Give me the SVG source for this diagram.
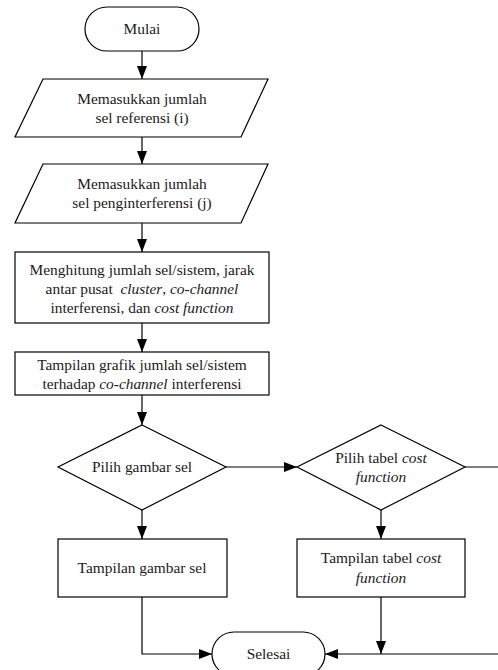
<svg xmlns="http://www.w3.org/2000/svg" width="498" height="670" viewBox="0 0 498 670">
<style>
.s{fill:#fff;stroke:#000;stroke-width:1.2}
.c{fill:none;stroke:#000;stroke-width:1.2}
text{font-family:'Liberation Serif',Tinos,'Times New Roman',Times,serif;font-size:15.4px;fill:#1a1a1a;text-anchor:middle;white-space:pre}
.i{font-style:italic}
</style>
<defs>
<marker id="a" markerWidth="13" markerHeight="10" refX="13" refY="5" orient="auto" markerUnits="userSpaceOnUse">
<path d="M0,0 L13,5 L0,10 z" fill="#000"/>
</marker>
</defs>
<rect width="498" height="670" fill="#fff"/>
<g id="connectors">
<path class="c" d="M142,51 V79" marker-end="url(#a)"/>
<path class="c" d="M142,137 V164" marker-end="url(#a)"/>
<path class="c" d="M142,223 V252" marker-end="url(#a)"/>
<path class="c" d="M142,323 V352" marker-end="url(#a)"/>
<path class="c" d="M142,395 V425" marker-end="url(#a)"/>
<path class="c" d="M226,467 H297" marker-end="url(#a)"/>
<path class="c" d="M142,510 V539" marker-end="url(#a)"/>
<path class="c" d="M381,510 V539" marker-end="url(#a)"/>
<path class="c" d="M142,597 V654 H212" marker-end="url(#a)"/>
<path class="c" d="M381,597 V654" marker-end="url(#a)"/>
<path class="c" d="M465,467 H498"/>
<path class="c" d="M498,654 H325" marker-end="url(#a)"/>
</g>
<g id="mulai">
<rect class="s" x="85" y="7" width="114" height="44" rx="22"/>
<text x="142" y="34" font-family="Liberation Serif, serif">Mulai</text>
</g>
<g id="input-i">
<polygon class="s" points="43,79 268,79 241,137 15,137"/>
<text x="142" y="104">Memasukkan jumlah</text>
<text x="142" y="123">sel referensi (i)</text>
</g>
<g id="input-j">
<polygon class="s" points="43,164 268,164 241,223 15,223"/>
<text x="142" y="189">Memasukkan jumlah</text>
<text x="142" y="208">sel penginterferensi (j)</text>
</g>
<g id="hitung">
<rect class="s" x="15" y="252" width="254" height="71"/>
<text x="142" y="275">Menghitung jumlah sel/sistem, jarak</text>
<text x="142" y="294">antar pusat  <tspan class="i">cluster</tspan>, <tspan class="i">co-channel</tspan></text>
<text x="142" y="313">interferensi, dan <tspan class="i">cost function</tspan></text>
</g>
<g id="grafik">
<rect class="s" x="15" y="352" width="254" height="43"/>
<text x="142" y="370">Tampilan grafik jumlah sel/sistem</text>
<text x="142" y="389">terhadap <tspan class="i">co-channel</tspan> interferensi</text>
</g>
<g id="pilih-gambar">
<polygon class="s" points="142,425 226,467 142,510 58,467"/>
<text x="142" y="472">Pilih gambar sel</text>
</g>
<g id="pilih-tabel">
<polygon class="s" points="381,425 465,467 381,510 297,467"/>
<text x="381" y="463">Pilih tabel <tspan class="i">cost</tspan></text>
<text x="381" y="482" class="i">function</text>
</g>
<g id="tampil-gambar">
<rect class="s" x="58" y="539" width="169" height="58"/>
<text x="142" y="573">Tampilan gambar sel</text>
</g>
<g id="tampil-tabel">
<rect class="s" x="297" y="539" width="168" height="58"/>
<text x="381" y="563">Tampilan tabel <tspan class="i">cost</tspan></text>
<text x="381" y="583" class="i">function</text>
</g>
<g id="selesai">
<rect class="s" x="212" y="632" width="113" height="44" rx="22"/>
<text x="268.5" y="659">Selesai</text>
</g>
</svg>
